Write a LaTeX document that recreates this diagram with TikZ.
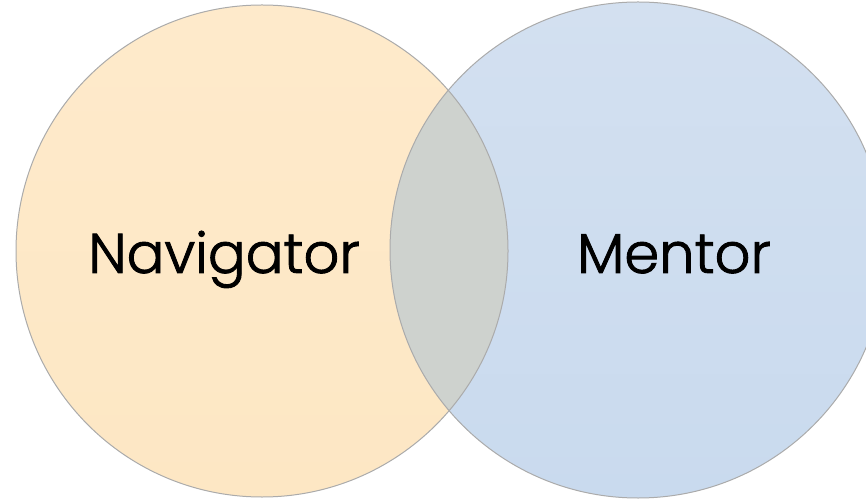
\documentclass[tikz,border=0pt]{standalone}
\usepackage{fontspec}
\setmainfont{Poppins}[UprightFont=* Light,UprightFeatures={FakeBold=1.6}]
\definecolor{navfill}{HTML}{FDE7C4}
\definecolor{navfilltop}{HTML}{FEEACB}
\definecolor{menfill}{HTML}{C9DAEE}
\definecolor{menfilltop}{HTML}{D3E0F0}
\definecolor{overlap}{HTML}{CED2CE}
\definecolor{edge}{HTML}{ABABAB}
\begin{document}
\begin{tikzpicture}[x=1pt,y=1pt,
  ring/.style={draw=edge,line width=1pt},
  label/.style={font=\fontsize{56}{58}\selectfont,text=black,anchor=base}]
\useasboundingbox (0,0) rectangle (866,498);
\coordinate (lc) at (262,247);
\coordinate (rc) at (638,248);
\shade[top color=navfilltop,bottom color=navfill] (lc) circle (246);
\shade[top color=menfilltop,bottom color=menfill] (rc) circle (248);
\begin{scope}
  \clip (lc) circle (246);
  \fill[overlap] (rc) circle (248);
\end{scope}
\draw[ring] (lc) circle (246);
\draw[ring] (rc) circle (248);
\node[label] (nav) at (224,225) {Navigator};
\node[label] (men) at (674,225) {Mentor};
\end{tikzpicture}
\end{document}
